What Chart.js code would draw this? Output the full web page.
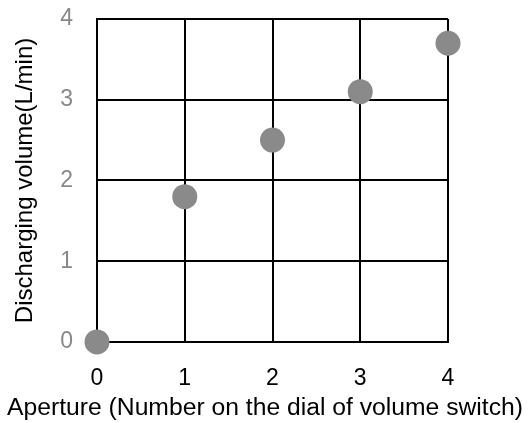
<!DOCTYPE html>
<html><head><meta charset="utf-8">
<script src="https://cdn.jsdelivr.net/npm/chart.js@4.4.0/dist/chart.umd.min.js"></script>
<style>html,body{margin:0;padding:0;background:#fff}#wrap{width:530px;height:423px}</style>
</head><body><div id="wrap"><canvas id="c" width="530" height="423"></canvas></div>
<script>
const apertures = [0, 1, 2, 3, 4];
const volumes = [0, 1.8, 2.5, 3.1, 3.7];
const xTitle = 'Aperture (Number on the dial of volume switch)';
const yTitle = 'Discharging volume(L/min)';
const data = apertures.map((a, i) => ({x: a, y: volumes[i]}));
new Chart(document.getElementById('c'), {
  type: 'scatter',
  data: {datasets: [{data, backgroundColor: '#8a8a8a', borderWidth: 0, pointRadius: 12.5, pointHoverRadius: 12.5, clip: false}]},
  options: {
    responsive: false, animation: false,
    layout: {padding: {left: 0, right: 0, top: 19, bottom: 0}},
    plugins: {
      legend: {display: false}, tooltip: {enabled: false},
      title: {display: true, position: 'bottom', text: xTitle, color: '#000',
        font: {family: 'Liberation Sans', size: 24.7, weight: 'normal'}, padding: {top: 0, bottom: 0}}
    },
    scales: {
      x: {type: 'linear', min: 0, max: 4,
        ticks: {stepSize: 1, color: '#000', font: {family: 'Liberation Sans', size: 23}, padding: 23, maxRotation: 0},
        grid: {color: '#000', lineWidth: 2, drawTicks: false},
        border: {color: '#000', width: 2},
        afterFit: s => { s.height = 51.4; s.paddingLeft = 0; s.paddingRight = 82; }},
      y: {min: 0, max: 4,
        ticks: {stepSize: 1, color: '#888', font: {family: 'Liberation Sans', size: 23}, padding: 24},
        grid: {color: '#000', lineWidth: 2, drawTicks: false},
        border: {color: '#000', width: 2},
        title: {display: true, text: yTitle, color: '#000', font: {family: 'Liberation Sans', size: 24}, padding: {top: 11, bottom: 0}},
        afterFit: s => { s.width = 97; s.paddingTop = 0; s.paddingBottom = 0; }}
    }
  }
});
</script></body></html>
